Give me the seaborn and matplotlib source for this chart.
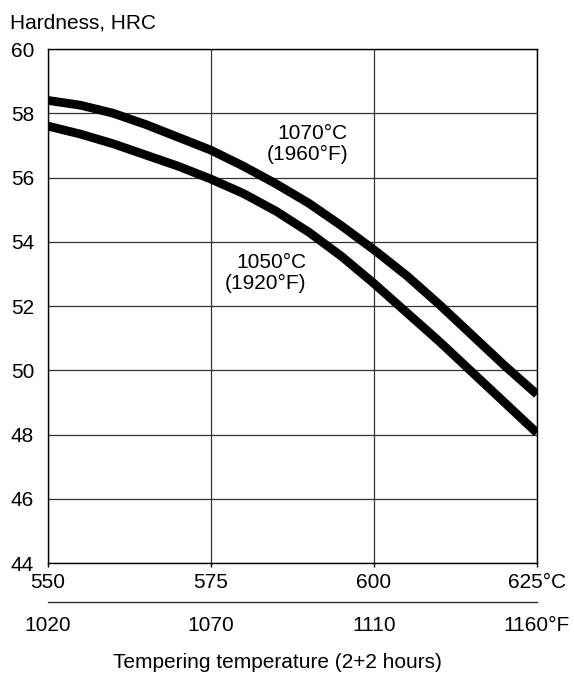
import pandas as pd
import matplotlib.pyplot as plt
import numpy as np
import seaborn as sns

# Tempering temperature in deg C and hardness
temps_c = [550, 555, 560, 565, 570, 575, 580, 585, 590, 595, 600, 605, 610, 615, 620, 625]
hrc_1070 = [58.4, 58.25, 58.0, 57.65, 57.25, 56.85, 56.35, 55.8, 55.2, 54.5, 53.75, 52.95, 52.05, 51.1, 50.15, 49.25]
hrc_1050 = [57.6, 57.35, 57.05, 56.7, 56.35, 55.95, 55.5, 54.95, 54.3, 53.55, 52.7, 51.8, 50.9, 49.95, 49.0, 48.05]

c_ticks = [550, 575, 600, 625]
c_labels = ['550', '575', '600', '625°C']
f_labels = ['1020', '1070', '1110', '1160°F']
y_ticks = [44, 46, 48, 50, 52, 54, 56, 58, 60]


def showTempering():
    sns.set_theme(style='white')
    plt.rcParams['font.family'] = ['Liberation Sans', 'DejaVu Sans']
    plt.rcParams['font.size'] = 15
    plt.rcParams['text.color'] = 'black'

    df = pd.DataFrame({'Temp': temps_c, 'HRC_1070': hrc_1070, 'HRC_1050': hrc_1050})

    fig = plt.figure(figsize=(5.74, 6.75), dpi=100)
    ax = fig.add_axes([0.0836, 0.1659, 0.8519, 0.7615])

    sns.lineplot(data=df, x='Temp', y='HRC_1070', ax=ax, color='black', linewidth=6.3,
                 solid_capstyle='butt', zorder=3)
    sns.lineplot(data=df, x='Temp', y='HRC_1050', ax=ax, color='black', linewidth=6.3,
                 solid_capstyle='butt', zorder=3)

    ax.set_xlim(550, 625)
    ax.set_ylim(44, 60)
    ax.set_xticks(c_ticks)
    ax.set_xticklabels(c_labels)
    ax.set_yticks(y_ticks)
    ax.set_xlabel('')
    ax.set_ylabel('')
    ax.tick_params(axis='x', bottom=True, length=3, width=1, color='black', direction='out', pad=4,
                   labelsize=15, labelcolor='black')
    ax.tick_params(axis='y', length=0, pad=10, labelsize=15, labelcolor='black')

    ax.grid(True, color='#333333', linewidth=0.9)
    for s in ax.spines.values():
        s.set_color('black')
        s.set_linewidth(1.0)
        s.set_zorder(4)

    # Fahrenheit scale below the Celsius one
    sec = ax.secondary_xaxis(-0.076)
    sec.set_xticks(c_ticks)
    sec.set_xticklabels(f_labels)
    sec.tick_params(axis='x', length=0, pad=10, labelsize=15, labelcolor='black')
    sec.spines['bottom'].set_color('#333333')
    sec.spines['bottom'].set_linewidth(1.0)

    ax.text(596, 57.05, '1070°C\n(1960°F)', ha='right', va='center', fontsize=15, linespacing=1.1)
    ax.text(589.6, 53.03, '1050°C\n(1920°F)', ha='right', va='center', fontsize=15, linespacing=1.1)

    fig.text(0.017, 1 - 23 / 675, 'Hardness, HRC', ha='left', va='center', fontsize=15)
    fig.text(0.483, 1 - 663 / 675, 'Tempering temperature (2+2 hours)', ha='center', va='center', fontsize=15)

    plt.savefig('out.png', dpi=100)


showTempering()
